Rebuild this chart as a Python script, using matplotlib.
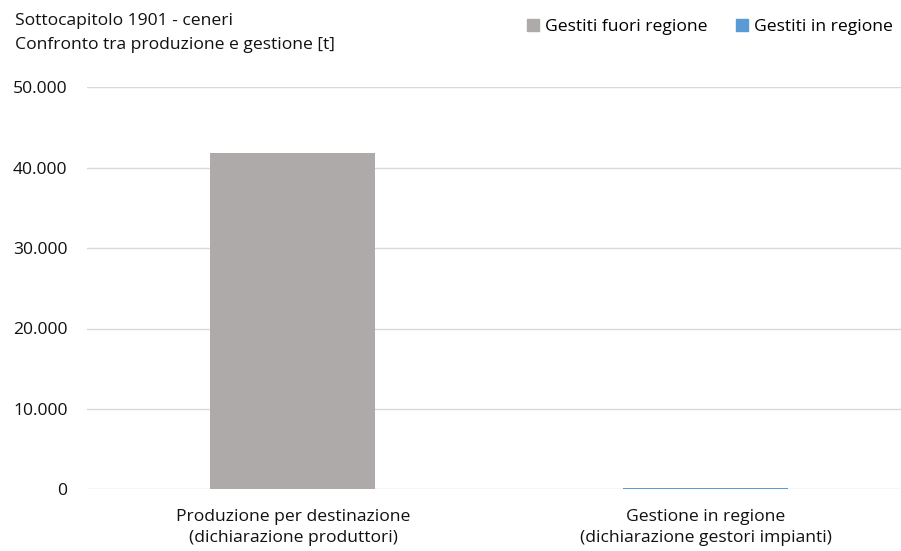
import matplotlib
matplotlib.use("Agg")
import matplotlib.pyplot as plt
from matplotlib.ticker import FuncFormatter
from matplotlib.patches import Patch

categories = ["Produzione per destinazione\n(dichiarazione produttori)",
              "Gestione in regione\n(dichiarazione gestori impianti)"]
fuori_regione = [41800, 0]
in_regione = [0, 200]
series_names = ["Gestiti fuori regione", "Gestiti in regione"]
yticks = [0, 10000, 20000, 30000, 40000, 50000]

plt.rcParams['font.family'] = ['Open Sans', 'DejaVu Sans']
gray = "#AEAAAA"
blue = "#5B9BD5"
tc = "#111111"
fs = 12.6

fig = plt.figure(figsize=(9.01, 5.51), dpi=100)
W, H = 901, 551
ax = fig.add_axes([87 / W, (H - 489.3) / H, (901 - 87) / W, (489.3 - 87.3) / H])

x = [0, 1]
ax.bar(x, fuori_regione, width=0.40, color=gray, zorder=2)
ax.bar(x, in_regione, width=0.40, bottom=fuori_regione, color=blue, zorder=2)

ax.set_ylim(0, 50000)
ax.set_xlim(-0.4994, 1.474)
ax.set_yticks(yticks)
ax.yaxis.set_major_formatter(FuncFormatter(lambda v, p: f"{int(v):,}".replace(",", ".")))
ax.grid(axis='y', color="#D9D9D9", linewidth=1, zorder=0)
for s in ax.spines.values():
    s.set_visible(False)
ax.tick_params(axis='y', length=0, pad=14, labelsize=fs, labelcolor=tc)
ax.tick_params(axis='x', length=0, pad=14, labelsize=fs, labelcolor=tc)
ax.set_xticks(x)
ax.set_xticklabels(categories, linespacing=1.45)

fig.text(15 / W, 1 - 21 / H, "Sottocapitolo 1901 - ceneri", fontsize=fs, va='center', ha='left', color=tc)
fig.text(15 / W, 1 - 45 / H, "Confronto tra produzione e gestione [t]", fontsize=fs, va='center', ha='left', color=tc)

handles = [Patch(color=gray), Patch(color=blue)]
fig.legend(handles, series_names, loc='center right', bbox_to_anchor=(893 / W, 1 - 27 / H),
           ncol=2, frameon=False, fontsize=fs, handlelength=0.7, handleheight=0.7,
           handletextpad=0.35, columnspacing=1.6, borderpad=0, borderaxespad=0)

fig.savefig("out.png", dpi=100, facecolor="white")
